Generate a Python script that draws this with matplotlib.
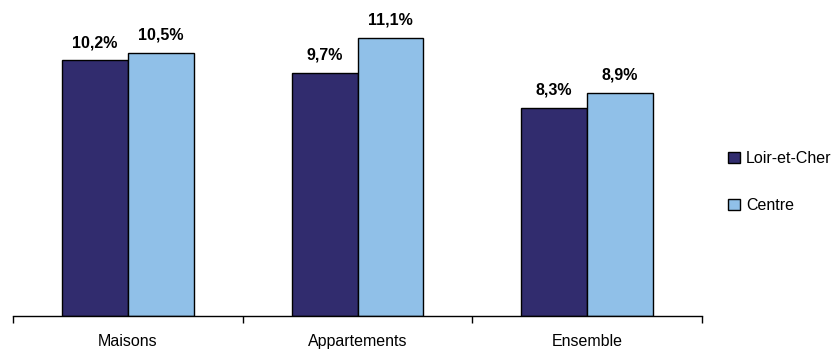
import matplotlib
matplotlib.use('Agg')
import matplotlib.pyplot as plt
import numpy as np

plt.rcParams['font.family'] = ['Liberation Sans', 'DejaVu Sans']

categories = ['Maisons', 'Appartements', 'Ensemble']
loir_et_cher = [10.2, 9.7, 8.3]
centre = [10.5, 11.1, 8.9]
series_names = ['Loir-et-Cher', 'Centre']
colors = ['#312C6E', '#90C0E8']


def fmt(v):
	return ('%.1f%%' % v).replace('.', ',')


fig = plt.figure(figsize=(8.38, 3.49), dpi=100)
ax = fig.add_axes([13 / 838, 33 / 349, 689 / 838, 301 / 349])

x = np.arange(len(categories))
w = 0.287
handles = []
for i, (vals, col) in enumerate(zip([loir_et_cher, centre], colors)):
	pos = x + (i - 0.5) * w
	b = ax.bar(pos, vals, width=w, color=col, edgecolor='black', linewidth=1.0,
	           label=series_names[i])
	handles.append(b)
	for p, v in zip(pos, vals):
		ax.text(p, v + 0.4, fmt(v), ha='center', va='bottom',
		        fontsize=11.5, fontweight='bold')

ax.set_xlim(-0.5, 2.5)
ax.set_ylim(0, 12)
for s in ['top', 'right', 'left']:
	ax.spines[s].set_visible(False)
ax.spines['bottom'].set_linewidth(1.0)
ax.set_yticks([])

# boundary ticks between categories, labels centred in each category
ax.set_xticks([-0.5, 0.5, 1.5, 2.5])
ax.set_xticklabels([])
ax.tick_params(axis='x', direction='out', length=5, width=1.0)
ax.set_xticks(x, minor=True)
ax.set_xticklabels(categories, minor=True, fontsize=11.5)
ax.tick_params(axis='x', which='minor', length=0, pad=13)

fig.legend(handles=handles, labels=series_names, loc='center left',
           bbox_to_anchor=(714 / 838, 1 - 182 / 349), frameon=False,
           fontsize=11.5, handlelength=0.7, handleheight=0.7,
           handletextpad=0.4, labelspacing=2.0)

fig.savefig('out.png', dpi=100)
